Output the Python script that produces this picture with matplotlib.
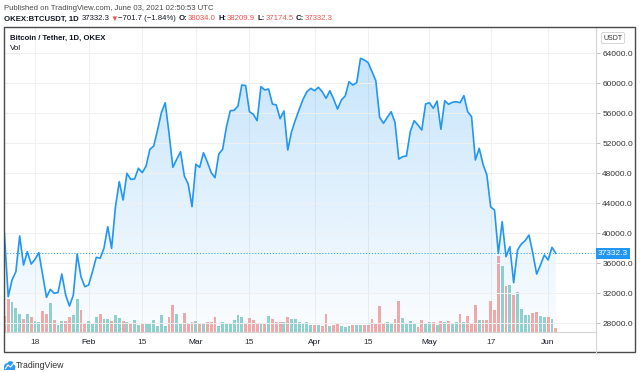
import numpy as np
import pandas as pd
import matplotlib
matplotlib.use("Agg")
import matplotlib.pyplot as plt
import matplotlib.dates as mdates
import matplotlib.transforms as mtransforms
from matplotlib.patches import Rectangle, Circle
from matplotlib.lines import Line2D

plt.rcParams['font.family'] = ['Liberation Sans', 'DejaVu Sans']

# daily closes, Jan 10 .. Jun 03 2021
close_jan = [40000, 31550, 33770, 34880, 39640, 35770, 37550, 35900, 36530, 37420, 34440,
             31470, 32530, 32000, 32100, 34570, 31770, 30300, 31770, 37240, 34220, 32880]
close_feb = [33100, 34880, 36800, 36670, 38000, 40880, 38000, 43500, 46880, 44440, 48000,
             47200, 47250, 48670, 48080, 48970, 51200, 51640, 53770, 56080, 57410, 53330,
             48800, 49870, 50880, 47640, 46570, 43550]
close_mar = [49200, 48800, 50750, 49500, 48100, 47410, 50570, 51200, 54220, 56350, 56400,
             56970, 59770, 59700, 56210, 55870, 55020, 59550, 59110, 59240, 57240, 57110,
             55280, 56310, 51110, 53550, 55110, 56530, 57870, 58880, 59330]
close_apr = [59010, 59470, 58880, 58000, 59010, 57870, 56570, 57770, 58310, 60210, 59770,
             60080, 63330, 63110, 62750, 61550, 60350, 55470, 54670, 55470, 56210, 54800,
             49900, 50220, 50310, 53550, 55020, 54440, 53770, 57240]
close_may = [57410, 56670, 57640, 53870, 57680, 57200, 57470, 57550, 57410, 58350, 56210,
             55550, 49770, 51330, 49200, 47770, 43500, 43110, 37330, 41550, 36880, 38220,
             33420, 37770, 38570, 39020, 39770, 37330, 34570, 35770, 37110]
close_jun = [36440, 38130, 37332.3]

# volume (thousands)
vol_jan = [16, 33, 30, 24, 18, 13, 18, 15, 11, 10, 21, 18, 29, 12, 7, 11, 11, 15, 17, 33, 22, 9]
vol_feb = [11, 9, 15, 18, 13, 13, 11, 17, 14, 11, 10, 8, 12, 7, 8, 8, 8, 12, 6, 17, 6, 15,
           27, 18, 9, 19, 9, 10]
vol_mar = [11, 9, 9, 10, 10, 15, 6, 10, 9, 8, 12, 17, 15, 8, 14, 12, 8, 8, 8, 16, 13, 10,
           10, 10, 15, 13, 13, 10, 9, 10, 7]
vol_apr = [7, 7, 6, 18, 6, 7, 9, 6, 5, 6, 7, 7, 7, 7, 7, 13, 8, 26, 8, 10, 8, 13, 31, 14,
           8, 11, 8, 5, 12, 9]
vol_may = [10, 10, 7, 11, 10, 11, 9, 10, 18, 10, 16, 8, 27, 12, 12, 12, 31, 22, 76, 66, 46,
           47, 37, 40, 23, 17, 17, 19, 20, 16, 15]
vol_jun = [15, 13, 4]

tick_dates = ["2021-01-18", "2021-02-01", "2021-02-15", "2021-03-01", "2021-03-15",
              "2021-04-01", "2021-04-15", "2021-05-01", "2021-05-17", "2021-06-01"]
tick_labels = ["18", "Feb", "15", "Mar", "15", "Apr", "15", "May", "17", "Jun"]
price_ticks = [28000, 32000, 36000, 40000, 44000, 48000, 52000, 56000, 60000, 64000]

close = np.array(close_jan + close_feb + close_mar + close_apr + close_may + close_jun)
volume = np.array(vol_jan + vol_feb + vol_mar + vol_apr + vol_may + vol_jun, dtype=float)
dates = pd.date_range("2021-01-10", periods=len(close), freq="D")
x = mdates.date2num(dates)
up = np.r_[False, np.diff(close) >= 0]

W, H = 640, 372
fig = plt.figure(figsize=(W / 100, H / 100), dpi=100)
fig.patch.set_facecolor("white")
px = mtransforms.Affine2D().scale(1 / W, -1 / H).translate(0, 1) + fig.transFigure

left, right, top, bottom = 4, 596, 27, 332
axv = fig.add_axes([left / W, 1 - bottom / H, (right - left) / W, (bottom - top) / H])
axp = axv.twinx()

# volume
axv.bar(x, volume, width=0.75, color=np.where(up, "#92d3cc", "#f7a9a7"), linewidth=0)
axv.set_ylim(0, volume.max() * 4.0)
axv.set_yticks([])
x0 = x[0] - 0.1
x1 = x[0] + 154.5
axv.set_xlim(x0, x1)

# price
ymin, ymax = 26840, 67507
poly = axp.fill_between(x, close, ymin, color="none", linewidth=0)
grad = np.zeros((256, 1, 4))
grad[:, 0, 0] = 33 / 255
grad[:, 0, 1] = 150 / 255
grad[:, 0, 2] = 243 / 255
grad[:, 0, 3] = np.linspace(0.02, 0.28, 256)
im = axp.imshow(grad, extent=[x0, x1, ymin, ymax], origin="lower", aspect="auto", zorder=1)
im.set_clip_path(poly.get_paths()[0], transform=axp.transData)
axp.plot(x, close, color="#2196f3", lw=1.2, zorder=3)
axp.axhline(close[-1], color="#2196f3", lw=0.7, ls=(0, (1, 2)), zorder=2)
axp.set_ylim(ymin, ymax)
axp.set_xlim(x0, x1)

axp.set_yticks(price_ticks)
axp.set_yticklabels([f"{v:.1f}" for v in price_ticks])
axp.tick_params(axis="y", direction="out", length=3, width=0.6, color="#b2b5be",
                labelsize=6, labelcolor="#333333", pad=1.5)
axp.grid(True, color="#f0f0f0", lw=0.7, zorder=0)
axv.set_xticks(mdates.date2num(pd.to_datetime(tick_dates)))
axv.set_xticklabels(tick_labels)
axv.tick_params(axis="x", length=0, labelsize=6, labelcolor="#333333", pad=5)
for lab in axv.get_xticklabels():
    if lab.get_text().isalpha():
        lab.set_color("#131722")
axv.grid(True, axis="x", color="#f0f0f0", lw=0.7)
axv.set_axisbelow(True)

for a in (axv, axp):
    for s in ("left", "top"):
        a.spines[s].set_visible(False)
    a.spines["right"].set_color("#d6d6d6")
    a.spines["bottom"].set_color("#d6d6d6")
    a.spines["right"].set_linewidth(0.8)
    a.spines["bottom"].set_linewidth(0.8)

axp.annotate(f"{close[-1]:.1f}", xy=(1, close[-1]), xycoords=("axes fraction", "data"),
             xytext=(1.5, 0), textcoords="offset points", ha="left", va="center",
             color="white", fontsize=6, annotation_clip=False,
             bbox=dict(boxstyle="square,pad=0.25", fc="#2196f3", ec="none"))

# legend texts inside the pane
fig.text(10, 38, "Bitcoin / Tether, 1D, OKEX", transform=px, fontsize=5.6, weight="bold",
         color="#131722", va="center")
fig.text(10, 49, "Vol", transform=px, fontsize=5.8, color="#131722", va="center")
fig.text(613, 38, "USDT", transform=px, fontsize=5, color="#333333", ha="center", va="center",
         bbox=dict(boxstyle="round,pad=0.3", fc="white", ec="#cfcfcf", lw=0.6))

# header
fig.text(4, 8, "Published on TradingView.com, June 03, 2021 02:50:53 UTC", transform=px,
         fontsize=5.6, color="#4a4a4a", va="center")
red = "#ef5350"
dark = "#131722"
header = [
    ("OKEX:BTCUSDT, 1D", dark, "bold", 3),
    ("37332.3", dark, "normal", 0.5),
    ("\u25bc", red, "normal", 0.5),
    ("\u2212701.7 (\u22121.84%)", dark, "normal", 2.5),
    ("O:", dark, "bold", 0.5),
    ("38034.0", red, "normal", 2.5),
    ("H:", dark, "bold", 0.5),
    ("38209.9", red, "normal", 2.5),
    ("L:", dark, "bold", 0.5),
    ("37174.5", red, "normal", 2.5),
    ("C:", dark, "bold", 0.5),
    ("37332.3", red, "normal", 0),
]
renderer = fig.canvas.get_renderer()


def place_header(size):
    placed = []
    hx = 4
    for txt, col, wt, gap in header:
        t = fig.text(hx, 19, txt, transform=px, fontsize=size, color=col, weight=wt,
                     va="center")
        hx = t.get_window_extent(renderer).x1 + gap
        placed.append(t)
    return placed, hx


trial, end = place_header(6)
for t in trial:
    t.remove()
place_header(6 * (335 - 4) / (end - 4))

# outer frame and axis divider
fig.patches.append(Rectangle((4, 27), 631, 325, transform=px, fill=False,
                             ec="#4a4a4a", lw=1.0))
fig.lines.append(Line2D([596, 596], [332, 352], transform=px, color="#d6d6d6", lw=0.8))

# logo
for cx, cy, r in [(7, 366, 2.8), (10.5, 364.5, 3.4), (13, 367, 2.4)]:
    fig.patches.append(Circle((cx, cy), r, transform=px, color="#2e9bf2", lw=0))
fig.patches.append(Rectangle((4.2, 366), 10.8, 3.6, transform=px, color="#2e9bf2", lw=0))
fig.lines.append(Line2D([5.5, 8, 10.5, 13.5], [368.5, 365, 367, 363.5], transform=px,
                        color="white", lw=0.8))
fig.text(16, 366, "TradingView", transform=px, fontsize=6.3, color="#333333", va="center")

fig.savefig("out.png", dpi=100)
